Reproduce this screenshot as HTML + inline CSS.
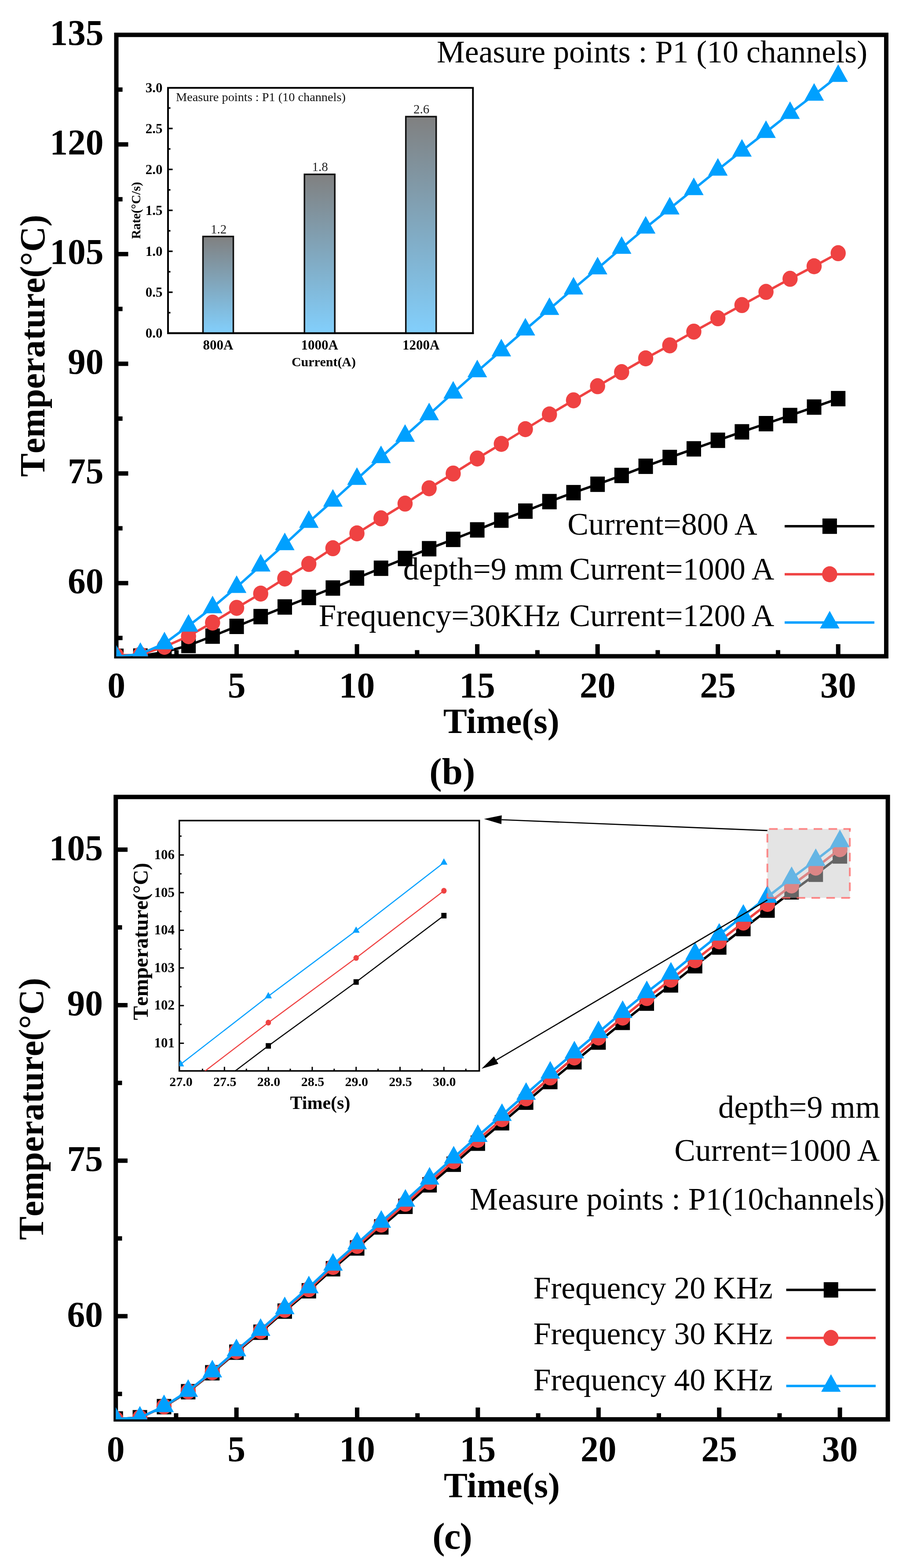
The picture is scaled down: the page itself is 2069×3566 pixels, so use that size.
<!DOCTYPE html>
<html><head><meta charset="utf-8"><title>Temperature charts</title>
<style>html,body{margin:0;padding:0;background:#fff;overflow:hidden;}svg{display:block;}.nk{font-kerning:none;}</style>
</head><body>
<svg width="2069" height="3566" viewBox="0 0 2069 3566" font-family="'Liberation Serif','Times New Roman',serif">
<rect width="2069" height="3566" fill="#fff"/>
<defs>
<clipPath id="cb"><rect x="264.5" y="79.3" width="1750.5" height="1413.2"/></clipPath>
<linearGradient id="bar" x1="0" y1="0" x2="0" y2="1"><stop offset="0" stop-color="#808080"/><stop offset="1" stop-color="#82CFFC"/></linearGradient>
</defs>
<rect x="264.5" y="79.3" width="1750.5" height="1413.2" fill="none" stroke="#000" stroke-width="10"/>
<line x1="264.5" y1="328.44" x2="291.5" y2="328.44" stroke="#000" stroke-width="10"/>
<line x1="264.5" y1="577.87" x2="291.5" y2="577.87" stroke="#000" stroke-width="10"/>
<line x1="264.5" y1="827.31" x2="291.5" y2="827.31" stroke="#000" stroke-width="10"/>
<line x1="264.5" y1="1076.74" x2="291.5" y2="1076.74" stroke="#000" stroke-width="10"/>
<line x1="264.5" y1="1326.18" x2="291.5" y2="1326.18" stroke="#000" stroke-width="10"/>
<line x1="264.5" y1="203.72" x2="278.6" y2="203.72" stroke="#000" stroke-width="10"/>
<line x1="264.5" y1="453.15" x2="278.6" y2="453.15" stroke="#000" stroke-width="10"/>
<line x1="264.5" y1="702.59" x2="278.6" y2="702.59" stroke="#000" stroke-width="10"/>
<line x1="264.5" y1="952.02" x2="278.6" y2="952.02" stroke="#000" stroke-width="10"/>
<line x1="264.5" y1="1201.46" x2="278.6" y2="1201.46" stroke="#000" stroke-width="10"/>
<line x1="264.5" y1="1450.89" x2="278.6" y2="1450.89" stroke="#000" stroke-width="10"/>
<line x1="538.04" y1="1492.5" x2="538.04" y2="1465" stroke="#000" stroke-width="10"/>
<line x1="811.57" y1="1492.5" x2="811.57" y2="1465" stroke="#000" stroke-width="10"/>
<line x1="1085.11" y1="1492.5" x2="1085.11" y2="1465" stroke="#000" stroke-width="10"/>
<line x1="1358.64" y1="1492.5" x2="1358.64" y2="1465" stroke="#000" stroke-width="10"/>
<line x1="1632.17" y1="1492.5" x2="1632.17" y2="1465" stroke="#000" stroke-width="10"/>
<line x1="1905.71" y1="1492.5" x2="1905.71" y2="1465" stroke="#000" stroke-width="10"/>
<line x1="401.27" y1="1492.5" x2="401.27" y2="1478.5" stroke="#000" stroke-width="10"/>
<line x1="674.8" y1="1492.5" x2="674.8" y2="1478.5" stroke="#000" stroke-width="10"/>
<line x1="948.34" y1="1492.5" x2="948.34" y2="1478.5" stroke="#000" stroke-width="10"/>
<line x1="1221.87" y1="1492.5" x2="1221.87" y2="1478.5" stroke="#000" stroke-width="10"/>
<line x1="1495.41" y1="1492.5" x2="1495.41" y2="1478.5" stroke="#000" stroke-width="10"/>
<line x1="1768.94" y1="1492.5" x2="1768.94" y2="1478.5" stroke="#000" stroke-width="10"/>
<text x="235.5" y="101.5" font-size="81.5" font-weight="bold" text-anchor="end" fill="#000">135</text>
<text x="235.5" y="350.94" font-size="81.5" font-weight="bold" text-anchor="end" fill="#000">120</text>
<text x="235.5" y="600.37" font-size="81.5" font-weight="bold" text-anchor="end" fill="#000">105</text>
<text x="235.5" y="849.81" font-size="81.5" font-weight="bold" text-anchor="end" fill="#000">90</text>
<text x="235.5" y="1099.24" font-size="81.5" font-weight="bold" text-anchor="end" fill="#000">75</text>
<text x="235.5" y="1348.68" font-size="81.5" font-weight="bold" text-anchor="end" fill="#000">60</text>
<text x="264.5" y="1585.5" font-size="81.5" font-weight="bold" text-anchor="middle" fill="#000">0</text>
<text x="538.04" y="1585.5" font-size="81.5" font-weight="bold" text-anchor="middle" fill="#000">5</text>
<text x="811.57" y="1585.5" font-size="81.5" font-weight="bold" text-anchor="middle" fill="#000">10</text>
<text x="1085.11" y="1585.5" font-size="81.5" font-weight="bold" text-anchor="middle" fill="#000">15</text>
<text x="1358.64" y="1585.5" font-size="81.5" font-weight="bold" text-anchor="middle" fill="#000">20</text>
<text x="1632.17" y="1585.5" font-size="81.5" font-weight="bold" text-anchor="middle" fill="#000">25</text>
<text x="1905.71" y="1585.5" font-size="81.5" font-weight="bold" text-anchor="middle" fill="#000">30</text>
<text x="1139.7" y="1666.5" font-size="81" font-weight="bold" text-anchor="middle" fill="#000">Time(s)</text>
<text x="100.8" y="786.5" font-size="80" font-weight="bold" text-anchor="middle" fill="#000" transform="rotate(-90 100.8 786.5)" class="nk">Temperature(°C)</text>
<text x="1028.3" y="1782.5" font-size="85" font-weight="bold" text-anchor="middle" fill="#000">(b)</text>
<text x="993" y="141.5" font-size="71.8" text-anchor="start" fill="#000">Measure points : P1 (10 channels)</text>
<rect x="382" y="199.8" width="693.3" height="557.9" fill="#fff" stroke="#000" stroke-width="4"/>
<line x1="382" y1="664.6" x2="392.5" y2="664.6" stroke="#000" stroke-width="3.5"/>
<line x1="382" y1="571.5" x2="392.5" y2="571.5" stroke="#000" stroke-width="3.5"/>
<line x1="382" y1="478.4" x2="392.5" y2="478.4" stroke="#000" stroke-width="3.5"/>
<line x1="382" y1="385.3" x2="392.5" y2="385.3" stroke="#000" stroke-width="3.5"/>
<line x1="382" y1="292.2" x2="392.5" y2="292.2" stroke="#000" stroke-width="3.5"/>
<line x1="382" y1="711.15" x2="387.5" y2="711.15" stroke="#000" stroke-width="3.5"/>
<line x1="382" y1="618.05" x2="387.5" y2="618.05" stroke="#000" stroke-width="3.5"/>
<line x1="382" y1="524.95" x2="387.5" y2="524.95" stroke="#000" stroke-width="3.5"/>
<line x1="382" y1="431.85" x2="387.5" y2="431.85" stroke="#000" stroke-width="3.5"/>
<line x1="382" y1="338.75" x2="387.5" y2="338.75" stroke="#000" stroke-width="3.5"/>
<line x1="382" y1="245.65" x2="387.5" y2="245.65" stroke="#000" stroke-width="3.5"/>
<text x="369.5" y="768.2" font-size="31" font-weight="bold" text-anchor="end" fill="#000">0.0</text>
<text x="369.5" y="675.1" font-size="31" font-weight="bold" text-anchor="end" fill="#000">0.5</text>
<text x="369.5" y="582" font-size="31" font-weight="bold" text-anchor="end" fill="#000">1.0</text>
<text x="369.5" y="488.9" font-size="31" font-weight="bold" text-anchor="end" fill="#000">1.5</text>
<text x="369.5" y="395.8" font-size="31" font-weight="bold" text-anchor="end" fill="#000">2.0</text>
<text x="369.5" y="302.7" font-size="31" font-weight="bold" text-anchor="end" fill="#000">2.5</text>
<text x="369.5" y="209.6" font-size="31" font-weight="bold" text-anchor="end" fill="#000">3.0</text>
<rect x="461.5" y="537.8" width="69" height="219.9" fill="url(#bar)" stroke="#111" stroke-width="3.5"/>
<text x="497" y="530.8" font-size="29" text-anchor="middle" fill="#222">1.2</text>
<text x="496" y="795" font-size="31" font-weight="bold" text-anchor="middle" fill="#000">800A</text>
<rect x="692.2" y="396.47" width="69" height="361.23" fill="url(#bar)" stroke="#111" stroke-width="3.5"/>
<text x="727.7" y="389.47" font-size="29" text-anchor="middle" fill="#222">1.8</text>
<text x="726.7" y="795" font-size="31" font-weight="bold" text-anchor="middle" fill="#000">1000A</text>
<rect x="922.7" y="265.2" width="69" height="492.5" fill="url(#bar)" stroke="#111" stroke-width="3.5"/>
<text x="958.2" y="258.2" font-size="29" text-anchor="middle" fill="#222">2.6</text>
<text x="957.2" y="795" font-size="31" font-weight="bold" text-anchor="middle" fill="#000">1200A</text>
<line x1="380" y1="757.7" x2="1077.3" y2="757.7" stroke="#000" stroke-width="4"/>
<text x="736" y="832.5" font-size="30" font-weight="bold" text-anchor="middle" fill="#000">Current(A)</text>
<text x="319" y="478.6" font-size="30" font-weight="bold" text-anchor="middle" fill="#000" transform="rotate(-90 319 478.6)" textLength="129.7" lengthAdjust="spacingAndGlyphs">Rate(°C/s)</text>
<text x="400" y="230.3" font-size="28.3" text-anchor="start" fill="#111">Measure points : P1 (10 channels)</text>
<g clip-path="url(#cb)">
<polyline points="264.5,1492.5 319.21,1492 373.91,1483 428.62,1468 483.33,1446.7 538.04,1424.5 592.74,1402.3 647.45,1380.4 702.16,1358.8 756.86,1337.3 811.57,1314.6 866.28,1292.3 920.98,1270.1 975.69,1247.9 1030.4,1226.7 1085.11,1205.1 1139.81,1182.9 1194.52,1162.4 1249.23,1140.8 1303.93,1120.4 1358.64,1101.3 1413.35,1081.3 1468.05,1060.4 1522.76,1040.4 1577.47,1020.8 1632.17,1001.3 1686.88,982.1 1741.59,963.5 1796.3,945 1851,925.8 1905.71,906.6" fill="none" stroke="#000000" stroke-width="5.5" stroke-linejoin="round"/>
<rect x="248" y="1475" width="33" height="35" fill="#000000"/>
<rect x="302.71" y="1474.5" width="33" height="35" fill="#000000"/>
<rect x="357.41" y="1465.5" width="33" height="35" fill="#000000"/>
<rect x="412.12" y="1450.5" width="33" height="35" fill="#000000"/>
<rect x="466.83" y="1429.2" width="33" height="35" fill="#000000"/>
<rect x="521.54" y="1407" width="33" height="35" fill="#000000"/>
<rect x="576.24" y="1384.8" width="33" height="35" fill="#000000"/>
<rect x="630.95" y="1362.9" width="33" height="35" fill="#000000"/>
<rect x="685.66" y="1341.3" width="33" height="35" fill="#000000"/>
<rect x="740.36" y="1319.8" width="33" height="35" fill="#000000"/>
<rect x="795.07" y="1297.1" width="33" height="35" fill="#000000"/>
<rect x="849.78" y="1274.8" width="33" height="35" fill="#000000"/>
<rect x="904.48" y="1252.6" width="33" height="35" fill="#000000"/>
<rect x="959.19" y="1230.4" width="33" height="35" fill="#000000"/>
<rect x="1013.9" y="1209.2" width="33" height="35" fill="#000000"/>
<rect x="1068.61" y="1187.6" width="33" height="35" fill="#000000"/>
<rect x="1123.31" y="1165.4" width="33" height="35" fill="#000000"/>
<rect x="1178.02" y="1144.9" width="33" height="35" fill="#000000"/>
<rect x="1232.73" y="1123.3" width="33" height="35" fill="#000000"/>
<rect x="1287.43" y="1102.9" width="33" height="35" fill="#000000"/>
<rect x="1342.14" y="1083.8" width="33" height="35" fill="#000000"/>
<rect x="1396.85" y="1063.8" width="33" height="35" fill="#000000"/>
<rect x="1451.55" y="1042.9" width="33" height="35" fill="#000000"/>
<rect x="1506.26" y="1022.9" width="33" height="35" fill="#000000"/>
<rect x="1560.97" y="1003.3" width="33" height="35" fill="#000000"/>
<rect x="1615.67" y="983.8" width="33" height="35" fill="#000000"/>
<rect x="1670.38" y="964.6" width="33" height="35" fill="#000000"/>
<rect x="1725.09" y="946" width="33" height="35" fill="#000000"/>
<rect x="1779.8" y="927.5" width="33" height="35" fill="#000000"/>
<rect x="1834.5" y="908.3" width="33" height="35" fill="#000000"/>
<rect x="1889.21" y="889.1" width="33" height="35" fill="#000000"/>
<polyline points="264.5,1491 319.21,1489 373.91,1471 428.62,1446.7 483.33,1415.9 538.04,1382.4 592.74,1350 647.45,1315.7 702.16,1282.6 756.86,1246.8 811.57,1213 866.28,1178.8 920.98,1145.3 975.69,1110.4 1030.4,1076.9 1085.11,1042.7 1139.81,1009.5 1194.52,976 1249.23,942.5 1303.93,910.4 1358.64,878.3 1413.35,846.3 1468.05,815 1522.76,785.4 1577.47,754.2 1632.17,723.8 1686.88,693.8 1741.59,663.8 1796.3,634.1 1851,605.5 1905.71,575.8" fill="none" stroke="#EF4242" stroke-width="5.5" stroke-linejoin="round"/>
<ellipse cx="264.5" cy="1491" rx="17.25" ry="18.25" fill="#EF4242"/>
<ellipse cx="319.21" cy="1489" rx="17.25" ry="18.25" fill="#EF4242"/>
<ellipse cx="373.91" cy="1471" rx="17.25" ry="18.25" fill="#EF4242"/>
<ellipse cx="428.62" cy="1446.7" rx="17.25" ry="18.25" fill="#EF4242"/>
<ellipse cx="483.33" cy="1415.9" rx="17.25" ry="18.25" fill="#EF4242"/>
<ellipse cx="538.04" cy="1382.4" rx="17.25" ry="18.25" fill="#EF4242"/>
<ellipse cx="592.74" cy="1350" rx="17.25" ry="18.25" fill="#EF4242"/>
<ellipse cx="647.45" cy="1315.7" rx="17.25" ry="18.25" fill="#EF4242"/>
<ellipse cx="702.16" cy="1282.6" rx="17.25" ry="18.25" fill="#EF4242"/>
<ellipse cx="756.86" cy="1246.8" rx="17.25" ry="18.25" fill="#EF4242"/>
<ellipse cx="811.57" cy="1213" rx="17.25" ry="18.25" fill="#EF4242"/>
<ellipse cx="866.28" cy="1178.8" rx="17.25" ry="18.25" fill="#EF4242"/>
<ellipse cx="920.98" cy="1145.3" rx="17.25" ry="18.25" fill="#EF4242"/>
<ellipse cx="975.69" cy="1110.4" rx="17.25" ry="18.25" fill="#EF4242"/>
<ellipse cx="1030.4" cy="1076.9" rx="17.25" ry="18.25" fill="#EF4242"/>
<ellipse cx="1085.11" cy="1042.7" rx="17.25" ry="18.25" fill="#EF4242"/>
<ellipse cx="1139.81" cy="1009.5" rx="17.25" ry="18.25" fill="#EF4242"/>
<ellipse cx="1194.52" cy="976" rx="17.25" ry="18.25" fill="#EF4242"/>
<ellipse cx="1249.23" cy="942.5" rx="17.25" ry="18.25" fill="#EF4242"/>
<ellipse cx="1303.93" cy="910.4" rx="17.25" ry="18.25" fill="#EF4242"/>
<ellipse cx="1358.64" cy="878.3" rx="17.25" ry="18.25" fill="#EF4242"/>
<ellipse cx="1413.35" cy="846.3" rx="17.25" ry="18.25" fill="#EF4242"/>
<ellipse cx="1468.05" cy="815" rx="17.25" ry="18.25" fill="#EF4242"/>
<ellipse cx="1522.76" cy="785.4" rx="17.25" ry="18.25" fill="#EF4242"/>
<ellipse cx="1577.47" cy="754.2" rx="17.25" ry="18.25" fill="#EF4242"/>
<ellipse cx="1632.17" cy="723.8" rx="17.25" ry="18.25" fill="#EF4242"/>
<ellipse cx="1686.88" cy="693.8" rx="17.25" ry="18.25" fill="#EF4242"/>
<ellipse cx="1741.59" cy="663.8" rx="17.25" ry="18.25" fill="#EF4242"/>
<ellipse cx="1796.3" cy="634.1" rx="17.25" ry="18.25" fill="#EF4242"/>
<ellipse cx="1851" cy="605.5" rx="17.25" ry="18.25" fill="#EF4242"/>
<ellipse cx="1905.71" cy="575.8" rx="17.25" ry="18.25" fill="#EF4242"/>
<polyline points="264.5,1493.8 319.21,1487.3 373.91,1463.5 428.62,1423.2 483.33,1381.4 538.04,1335.2 592.74,1286.3 647.45,1237.8 702.16,1187.1 756.86,1139 811.57,1089.5 866.28,1039.9 920.98,991.4 975.69,942.5 1030.4,893.2 1085.11,844.7 1139.81,797.1 1194.52,749.6 1249.23,702.8 1303.93,656.5 1358.64,610.7 1413.35,564 1468.05,517.8 1522.76,474.4 1577.47,430.3 1632.17,386.1 1686.88,342.8 1741.59,300.5 1796.3,257.1 1851,215.6 1905.71,173" fill="none" stroke="#00A0FF" stroke-width="5.5" stroke-linejoin="round"/>
<polygon points="264.5,1467.13 242.25,1507.13 286.75,1507.13" fill="#00A0FF"/>
<polygon points="319.21,1460.63 296.96,1500.63 341.46,1500.63" fill="#00A0FF"/>
<polygon points="373.91,1436.83 351.66,1476.83 396.16,1476.83" fill="#00A0FF"/>
<polygon points="428.62,1396.53 406.37,1436.53 450.87,1436.53" fill="#00A0FF"/>
<polygon points="483.33,1354.73 461.08,1394.73 505.58,1394.73" fill="#00A0FF"/>
<polygon points="538.04,1308.53 515.79,1348.53 560.29,1348.53" fill="#00A0FF"/>
<polygon points="592.74,1259.63 570.49,1299.63 614.99,1299.63" fill="#00A0FF"/>
<polygon points="647.45,1211.13 625.2,1251.13 669.7,1251.13" fill="#00A0FF"/>
<polygon points="702.16,1160.43 679.91,1200.43 724.41,1200.43" fill="#00A0FF"/>
<polygon points="756.86,1112.33 734.61,1152.33 779.11,1152.33" fill="#00A0FF"/>
<polygon points="811.57,1062.83 789.32,1102.83 833.82,1102.83" fill="#00A0FF"/>
<polygon points="866.28,1013.23 844.03,1053.23 888.53,1053.23" fill="#00A0FF"/>
<polygon points="920.98,964.73 898.73,1004.73 943.23,1004.73" fill="#00A0FF"/>
<polygon points="975.69,915.83 953.44,955.83 997.94,955.83" fill="#00A0FF"/>
<polygon points="1030.4,866.53 1008.15,906.53 1052.65,906.53" fill="#00A0FF"/>
<polygon points="1085.11,818.03 1062.86,858.03 1107.36,858.03" fill="#00A0FF"/>
<polygon points="1139.81,770.43 1117.56,810.43 1162.06,810.43" fill="#00A0FF"/>
<polygon points="1194.52,722.93 1172.27,762.93 1216.77,762.93" fill="#00A0FF"/>
<polygon points="1249.23,676.13 1226.98,716.13 1271.48,716.13" fill="#00A0FF"/>
<polygon points="1303.93,629.83 1281.68,669.83 1326.18,669.83" fill="#00A0FF"/>
<polygon points="1358.64,584.03 1336.39,624.03 1380.89,624.03" fill="#00A0FF"/>
<polygon points="1413.35,537.33 1391.1,577.33 1435.6,577.33" fill="#00A0FF"/>
<polygon points="1468.05,491.13 1445.8,531.13 1490.3,531.13" fill="#00A0FF"/>
<polygon points="1522.76,447.73 1500.51,487.73 1545.01,487.73" fill="#00A0FF"/>
<polygon points="1577.47,403.63 1555.22,443.63 1599.72,443.63" fill="#00A0FF"/>
<polygon points="1632.17,359.43 1609.92,399.43 1654.42,399.43" fill="#00A0FF"/>
<polygon points="1686.88,316.13 1664.63,356.13 1709.13,356.13" fill="#00A0FF"/>
<polygon points="1741.59,273.83 1719.34,313.83 1763.84,313.83" fill="#00A0FF"/>
<polygon points="1796.3,230.43 1774.05,270.43 1818.55,270.43" fill="#00A0FF"/>
<polygon points="1851,188.93 1828.75,228.93 1873.25,228.93" fill="#00A0FF"/>
<polygon points="1905.71,146.33 1883.46,186.33 1927.96,186.33" fill="#00A0FF"/>
</g>
<text x="1290.2" y="1215.7" font-size="71.5" text-anchor="start" fill="#000">Current=800 A</text>
<text x="916.7" y="1317.6" font-size="71.5" text-anchor="start" fill="#000">depth=9 mm</text>
<text x="1294.4" y="1317.6" font-size="71.3" text-anchor="start" fill="#000">Current=1000 A</text>
<text x="724.5" y="1423.6" font-size="71.5" text-anchor="start" fill="#000">Frequency=30KHz</text>
<text x="1294.4" y="1423.6" font-size="71.3" text-anchor="start" fill="#000">Current=1200 A</text>
<line x1="1784" y1="1196.7" x2="1988" y2="1196.7" stroke="#000000" stroke-width="5.5"/>
<rect x="1869.9" y="1179.2" width="33" height="35" fill="#000000"/>
<line x1="1784" y1="1306" x2="1988" y2="1306" stroke="#EF4242" stroke-width="5.5"/>
<ellipse cx="1886.4" cy="1306" rx="17.25" ry="18.25" fill="#EF4242"/>
<line x1="1784" y1="1415.8" x2="1988" y2="1415.8" stroke="#00A0FF" stroke-width="5.5"/>
<polygon points="1886.4,1389.13 1864.15,1429.13 1908.65,1429.13" fill="#00A0FF"/>
<defs><clipPath id="cc"><rect x="263.2" y="1812.5" width="1755.4" height="1415.5"/></clipPath></defs>
<rect x="263.2" y="1812.5" width="1755.4" height="1415.5" fill="none" stroke="#000" stroke-width="10"/>
<line x1="263.2" y1="1932.3" x2="290" y2="1932.3" stroke="#000" stroke-width="10"/>
<line x1="263.2" y1="2285.97" x2="290" y2="2285.97" stroke="#000" stroke-width="10"/>
<line x1="263.2" y1="2639.64" x2="290" y2="2639.64" stroke="#000" stroke-width="10"/>
<line x1="263.2" y1="2993.31" x2="290" y2="2993.31" stroke="#000" stroke-width="10"/>
<line x1="263.2" y1="2109.13" x2="277.5" y2="2109.13" stroke="#000" stroke-width="10"/>
<line x1="263.2" y1="2462.8" x2="277.5" y2="2462.8" stroke="#000" stroke-width="10"/>
<line x1="263.2" y1="2816.47" x2="277.5" y2="2816.47" stroke="#000" stroke-width="10"/>
<line x1="263.2" y1="3170.14" x2="277.5" y2="3170.14" stroke="#000" stroke-width="10"/>
<line x1="537.6" y1="3228" x2="537.6" y2="3201" stroke="#000" stroke-width="10"/>
<line x1="812" y1="3228" x2="812" y2="3201" stroke="#000" stroke-width="10"/>
<line x1="1086.4" y1="3228" x2="1086.4" y2="3201" stroke="#000" stroke-width="10"/>
<line x1="1360.8" y1="3228" x2="1360.8" y2="3201" stroke="#000" stroke-width="10"/>
<line x1="1635.2" y1="3228" x2="1635.2" y2="3201" stroke="#000" stroke-width="10"/>
<line x1="1909.6" y1="3228" x2="1909.6" y2="3201" stroke="#000" stroke-width="10"/>
<line x1="400.4" y1="3228" x2="400.4" y2="3214" stroke="#000" stroke-width="10"/>
<line x1="674.8" y1="3228" x2="674.8" y2="3214" stroke="#000" stroke-width="10"/>
<line x1="949.2" y1="3228" x2="949.2" y2="3214" stroke="#000" stroke-width="10"/>
<line x1="1223.6" y1="3228" x2="1223.6" y2="3214" stroke="#000" stroke-width="10"/>
<line x1="1498" y1="3228" x2="1498" y2="3214" stroke="#000" stroke-width="10"/>
<line x1="1772.4" y1="3228" x2="1772.4" y2="3214" stroke="#000" stroke-width="10"/>
<text x="234" y="1955.8" font-size="81.5" font-weight="bold" text-anchor="end" fill="#000">105</text>
<text x="234" y="2309.47" font-size="81.5" font-weight="bold" text-anchor="end" fill="#000">90</text>
<text x="234" y="2663.14" font-size="81.5" font-weight="bold" text-anchor="end" fill="#000">75</text>
<text x="234" y="3016.81" font-size="81.5" font-weight="bold" text-anchor="end" fill="#000">60</text>
<text x="263.2" y="3322.5" font-size="81.5" font-weight="bold" text-anchor="middle" fill="#000">0</text>
<text x="537.6" y="3322.5" font-size="81.5" font-weight="bold" text-anchor="middle" fill="#000">5</text>
<text x="812" y="3322.5" font-size="81.5" font-weight="bold" text-anchor="middle" fill="#000">10</text>
<text x="1086.4" y="3322.5" font-size="81.5" font-weight="bold" text-anchor="middle" fill="#000">15</text>
<text x="1360.8" y="3322.5" font-size="81.5" font-weight="bold" text-anchor="middle" fill="#000">20</text>
<text x="1635.2" y="3322.5" font-size="81.5" font-weight="bold" text-anchor="middle" fill="#000">25</text>
<text x="1909.6" y="3322.5" font-size="81.5" font-weight="bold" text-anchor="middle" fill="#000">30</text>
<text x="1141" y="3404.5" font-size="81" font-weight="bold" text-anchor="middle" fill="#000">Time(s)</text>
<text x="98.2" y="2521.8" font-size="80" font-weight="bold" text-anchor="middle" fill="#000" transform="rotate(-90 98.2 2521.8)" class="nk">Temperature(°C)</text>
<text x="1028.5" y="3521.5" font-size="85" font-weight="bold" text-anchor="middle" fill="#000" textLength="90.5" lengthAdjust="spacing">(c)</text>
<g clip-path="url(#cc)">
<polyline points="263.2,3227.04 318.08,3224.24 372.96,3199.06 427.84,3165.07 482.72,3121.98 537.6,3075.11 592.48,3029.79 647.36,2981.8 702.24,2935.5 757.12,2885.41 812,2838.13 866.88,2790.28 921.76,2743.42 976.64,2694.59 1031.52,2647.73 1086.4,2599.88 1141.28,2553.44 1196.16,2506.57 1251.04,2459.71 1305.92,2414.8 1360.8,2369.89 1415.68,2325.13 1470.56,2281.34 1525.44,2239.93 1580.32,2196.28 1635.2,2153.75 1690.08,2111.79 1744.96,2069.82 1799.84,2028.27 1854.72,1988.26 1909.6,1946.71" fill="none" stroke="#000000" stroke-width="5.5" stroke-linejoin="round"/>
<rect x="246.7" y="3209.54" width="33" height="35" fill="#000000"/>
<rect x="301.58" y="3206.74" width="33" height="35" fill="#000000"/>
<rect x="356.46" y="3181.56" width="33" height="35" fill="#000000"/>
<rect x="411.34" y="3147.57" width="33" height="35" fill="#000000"/>
<rect x="466.22" y="3104.48" width="33" height="35" fill="#000000"/>
<rect x="521.1" y="3057.61" width="33" height="35" fill="#000000"/>
<rect x="575.98" y="3012.29" width="33" height="35" fill="#000000"/>
<rect x="630.86" y="2964.3" width="33" height="35" fill="#000000"/>
<rect x="685.74" y="2918" width="33" height="35" fill="#000000"/>
<rect x="740.62" y="2867.91" width="33" height="35" fill="#000000"/>
<rect x="795.5" y="2820.63" width="33" height="35" fill="#000000"/>
<rect x="850.38" y="2772.78" width="33" height="35" fill="#000000"/>
<rect x="905.26" y="2725.92" width="33" height="35" fill="#000000"/>
<rect x="960.14" y="2677.09" width="33" height="35" fill="#000000"/>
<rect x="1015.02" y="2630.23" width="33" height="35" fill="#000000"/>
<rect x="1069.9" y="2582.38" width="33" height="35" fill="#000000"/>
<rect x="1124.78" y="2535.94" width="33" height="35" fill="#000000"/>
<rect x="1179.66" y="2489.07" width="33" height="35" fill="#000000"/>
<rect x="1234.54" y="2442.21" width="33" height="35" fill="#000000"/>
<rect x="1289.42" y="2397.3" width="33" height="35" fill="#000000"/>
<rect x="1344.3" y="2352.39" width="33" height="35" fill="#000000"/>
<rect x="1399.18" y="2307.63" width="33" height="35" fill="#000000"/>
<rect x="1454.06" y="2263.84" width="33" height="35" fill="#000000"/>
<rect x="1508.94" y="2222.43" width="33" height="35" fill="#000000"/>
<rect x="1563.82" y="2178.78" width="33" height="35" fill="#000000"/>
<rect x="1618.7" y="2136.25" width="33" height="35" fill="#000000"/>
<rect x="1673.58" y="2094.29" width="33" height="35" fill="#000000"/>
<rect x="1728.46" y="2052.32" width="33" height="35" fill="#000000"/>
<rect x="1783.34" y="2010.77" width="33" height="35" fill="#000000"/>
<rect x="1838.22" y="1970.76" width="33" height="35" fill="#000000"/>
<rect x="1893.1" y="1929.21" width="33" height="35" fill="#000000"/>
<polyline points="263.2,3227.02 318.08,3224.18 372.96,3198.7 427.84,3164.29 482.72,3120.68 537.6,3073.24 592.48,3027.37 647.36,2978.8 702.24,2931.93 757.12,2881.24 812,2833.38 866.88,2784.95 921.76,2737.52 976.64,2688.1 1031.52,2640.67 1086.4,2592.24 1141.28,2545.23 1196.16,2497.8 1251.04,2450.36 1305.92,2404.91 1360.8,2359.46 1415.68,2314.15 1470.56,2269.83 1525.44,2227.92 1580.32,2183.74 1635.2,2140.69 1690.08,2098.22 1744.96,2055.74 1799.84,2013.68 1854.72,1973.19 1909.6,1931.13" fill="none" stroke="#EF4242" stroke-width="5.5" stroke-linejoin="round"/>
<ellipse cx="263.2" cy="3227.02" rx="17.25" ry="18.25" fill="#EF4242"/>
<ellipse cx="318.08" cy="3224.18" rx="17.25" ry="18.25" fill="#EF4242"/>
<ellipse cx="372.96" cy="3198.7" rx="17.25" ry="18.25" fill="#EF4242"/>
<ellipse cx="427.84" cy="3164.29" rx="17.25" ry="18.25" fill="#EF4242"/>
<ellipse cx="482.72" cy="3120.68" rx="17.25" ry="18.25" fill="#EF4242"/>
<ellipse cx="537.6" cy="3073.24" rx="17.25" ry="18.25" fill="#EF4242"/>
<ellipse cx="592.48" cy="3027.37" rx="17.25" ry="18.25" fill="#EF4242"/>
<ellipse cx="647.36" cy="2978.8" rx="17.25" ry="18.25" fill="#EF4242"/>
<ellipse cx="702.24" cy="2931.93" rx="17.25" ry="18.25" fill="#EF4242"/>
<ellipse cx="757.12" cy="2881.24" rx="17.25" ry="18.25" fill="#EF4242"/>
<ellipse cx="812" cy="2833.38" rx="17.25" ry="18.25" fill="#EF4242"/>
<ellipse cx="866.88" cy="2784.95" rx="17.25" ry="18.25" fill="#EF4242"/>
<ellipse cx="921.76" cy="2737.52" rx="17.25" ry="18.25" fill="#EF4242"/>
<ellipse cx="976.64" cy="2688.1" rx="17.25" ry="18.25" fill="#EF4242"/>
<ellipse cx="1031.52" cy="2640.67" rx="17.25" ry="18.25" fill="#EF4242"/>
<ellipse cx="1086.4" cy="2592.24" rx="17.25" ry="18.25" fill="#EF4242"/>
<ellipse cx="1141.28" cy="2545.23" rx="17.25" ry="18.25" fill="#EF4242"/>
<ellipse cx="1196.16" cy="2497.8" rx="17.25" ry="18.25" fill="#EF4242"/>
<ellipse cx="1251.04" cy="2450.36" rx="17.25" ry="18.25" fill="#EF4242"/>
<ellipse cx="1305.92" cy="2404.91" rx="17.25" ry="18.25" fill="#EF4242"/>
<ellipse cx="1360.8" cy="2359.46" rx="17.25" ry="18.25" fill="#EF4242"/>
<ellipse cx="1415.68" cy="2314.15" rx="17.25" ry="18.25" fill="#EF4242"/>
<ellipse cx="1470.56" cy="2269.83" rx="17.25" ry="18.25" fill="#EF4242"/>
<ellipse cx="1525.44" cy="2227.92" rx="17.25" ry="18.25" fill="#EF4242"/>
<ellipse cx="1580.32" cy="2183.74" rx="17.25" ry="18.25" fill="#EF4242"/>
<ellipse cx="1635.2" cy="2140.69" rx="17.25" ry="18.25" fill="#EF4242"/>
<ellipse cx="1690.08" cy="2098.22" rx="17.25" ry="18.25" fill="#EF4242"/>
<ellipse cx="1744.96" cy="2055.74" rx="17.25" ry="18.25" fill="#EF4242"/>
<ellipse cx="1799.84" cy="2013.68" rx="17.25" ry="18.25" fill="#EF4242"/>
<ellipse cx="1854.72" cy="1973.19" rx="17.25" ry="18.25" fill="#EF4242"/>
<ellipse cx="1909.6" cy="1931.13" rx="17.25" ry="18.25" fill="#EF4242"/>
<polyline points="263.2,3226.99 318.08,3224.12 372.96,3198.28 427.84,3163.41 482.72,3119.2 537.6,3071.12 592.48,3024.62 647.36,2975.39 702.24,2927.89 757.12,2876.51 812,2828 866.88,2778.91 921.76,2730.83 976.64,2680.75 1031.52,2632.67 1086.4,2583.58 1141.28,2535.93 1196.16,2487.85 1251.04,2439.77 1305.92,2393.7 1360.8,2347.63 1415.68,2301.71 1470.56,2256.78 1525.44,2214.3 1580.32,2169.52 1635.2,2125.89 1690.08,2082.84 1744.96,2039.78 1799.84,1997.15 1854.72,1956.11 1909.6,1913.48" fill="none" stroke="#00A0FF" stroke-width="5.5" stroke-linejoin="round"/>
<polygon points="263.2,3200.32 240.95,3240.32 285.45,3240.32" fill="#00A0FF"/>
<polygon points="318.08,3197.45 295.83,3237.45 340.33,3237.45" fill="#00A0FF"/>
<polygon points="372.96,3171.62 350.71,3211.62 395.21,3211.62" fill="#00A0FF"/>
<polygon points="427.84,3136.74 405.59,3176.74 450.09,3176.74" fill="#00A0FF"/>
<polygon points="482.72,3092.54 460.47,3132.54 504.97,3132.54" fill="#00A0FF"/>
<polygon points="537.6,3044.46 515.35,3084.46 559.85,3084.46" fill="#00A0FF"/>
<polygon points="592.48,2997.96 570.23,3037.96 614.73,3037.96" fill="#00A0FF"/>
<polygon points="647.36,2948.73 625.11,2988.73 669.61,2988.73" fill="#00A0FF"/>
<polygon points="702.24,2901.22 679.99,2941.22 724.49,2941.22" fill="#00A0FF"/>
<polygon points="757.12,2849.84 734.87,2889.84 779.37,2889.84" fill="#00A0FF"/>
<polygon points="812,2801.33 789.75,2841.33 834.25,2841.33" fill="#00A0FF"/>
<polygon points="866.88,2752.25 844.63,2792.25 889.13,2792.25" fill="#00A0FF"/>
<polygon points="921.76,2704.17 899.51,2744.17 944.01,2744.17" fill="#00A0FF"/>
<polygon points="976.64,2654.08 954.39,2694.08 998.89,2694.08" fill="#00A0FF"/>
<polygon points="1031.52,2606 1009.27,2646 1053.77,2646" fill="#00A0FF"/>
<polygon points="1086.4,2556.91 1064.15,2596.91 1108.65,2596.91" fill="#00A0FF"/>
<polygon points="1141.28,2509.27 1119.03,2549.27 1163.53,2549.27" fill="#00A0FF"/>
<polygon points="1196.16,2461.19 1173.91,2501.19 1218.41,2501.19" fill="#00A0FF"/>
<polygon points="1251.04,2413.11 1228.79,2453.11 1273.29,2453.11" fill="#00A0FF"/>
<polygon points="1305.92,2367.04 1283.67,2407.04 1328.17,2407.04" fill="#00A0FF"/>
<polygon points="1360.8,2320.97 1338.55,2360.97 1383.05,2360.97" fill="#00A0FF"/>
<polygon points="1415.68,2275.04 1393.43,2315.04 1437.93,2315.04" fill="#00A0FF"/>
<polygon points="1470.56,2230.12 1448.31,2270.12 1492.81,2270.12" fill="#00A0FF"/>
<polygon points="1525.44,2187.63 1503.19,2227.63 1547.69,2227.63" fill="#00A0FF"/>
<polygon points="1580.32,2142.86 1558.07,2182.86 1602.57,2182.86" fill="#00A0FF"/>
<polygon points="1635.2,2099.23 1612.95,2139.23 1657.45,2139.23" fill="#00A0FF"/>
<polygon points="1690.08,2056.17 1667.83,2096.17 1712.33,2096.17" fill="#00A0FF"/>
<polygon points="1744.96,2013.11 1722.71,2053.11 1767.21,2053.11" fill="#00A0FF"/>
<polygon points="1799.84,1970.49 1777.59,2010.49 1822.09,2010.49" fill="#00A0FF"/>
<polygon points="1854.72,1929.44 1832.47,1969.44 1876.97,1969.44" fill="#00A0FF"/>
<polygon points="1909.6,1886.81 1887.35,1926.81 1931.85,1926.81" fill="#00A0FF"/>
</g>
<rect x="1744.7" y="1885.3" width="187.5" height="156.6" fill="rgb(202,202,202)" fill-opacity="0.5"/>
<line x1="1742.7" y1="1885.3" x2="1934.2" y2="1885.3" stroke="#FF6060" stroke-width="4" stroke-dasharray="19.5,14.3" stroke-opacity="0.72" stroke-dashoffset="-5.9"/>
<line x1="1744.7" y1="1885.3" x2="1744.7" y2="2041.9" stroke="#FF6060" stroke-width="4" stroke-dasharray="19.5,14.3" stroke-opacity="0.72" stroke-dashoffset="-11.3"/>
<line x1="1742.7" y1="2041.9" x2="1934.2" y2="2041.9" stroke="#FF6060" stroke-width="4" stroke-dasharray="19.5,14.3" stroke-opacity="0.72" stroke-dashoffset="-0.9"/>
<line x1="1932.2" y1="1885.3" x2="1932.2" y2="2041.9" stroke="#FF6060" stroke-width="4" stroke-dasharray="19.5,14.3" stroke-opacity="0.72" stroke-dashoffset="-54.2"/>
<defs><clipPath id="cj"><rect x="407.7" y="1866.2" width="682" height="569.3"/></clipPath></defs>
<rect x="407.7" y="1866.2" width="682" height="569.3" fill="#fff" stroke="#000" stroke-width="3.5"/>
<line x1="407.7" y1="2372.6" x2="418.2" y2="2372.6" stroke="#000" stroke-width="3"/>
<text x="397" y="2382.1" font-size="31" font-weight="bold" text-anchor="end" fill="#000">101</text>
<line x1="407.7" y1="2286.96" x2="418.2" y2="2286.96" stroke="#000" stroke-width="3"/>
<text x="397" y="2296.46" font-size="31" font-weight="bold" text-anchor="end" fill="#000">102</text>
<line x1="407.7" y1="2201.32" x2="418.2" y2="2201.32" stroke="#000" stroke-width="3"/>
<text x="397" y="2210.82" font-size="31" font-weight="bold" text-anchor="end" fill="#000">103</text>
<line x1="407.7" y1="2115.68" x2="418.2" y2="2115.68" stroke="#000" stroke-width="3"/>
<text x="397" y="2125.18" font-size="31" font-weight="bold" text-anchor="end" fill="#000">104</text>
<line x1="407.7" y1="2030.04" x2="418.2" y2="2030.04" stroke="#000" stroke-width="3"/>
<text x="397" y="2039.54" font-size="31" font-weight="bold" text-anchor="end" fill="#000">105</text>
<line x1="407.7" y1="1944.4" x2="418.2" y2="1944.4" stroke="#000" stroke-width="3"/>
<text x="397" y="1953.9" font-size="31" font-weight="bold" text-anchor="end" fill="#000">106</text>
<line x1="407.7" y1="2415.42" x2="412.8" y2="2415.42" stroke="#000" stroke-width="3"/>
<line x1="407.7" y1="2329.78" x2="412.8" y2="2329.78" stroke="#000" stroke-width="3"/>
<line x1="407.7" y1="2244.14" x2="412.8" y2="2244.14" stroke="#000" stroke-width="3"/>
<line x1="407.7" y1="2158.5" x2="412.8" y2="2158.5" stroke="#000" stroke-width="3"/>
<line x1="407.7" y1="2072.86" x2="412.8" y2="2072.86" stroke="#000" stroke-width="3"/>
<line x1="407.7" y1="1987.22" x2="412.8" y2="1987.22" stroke="#000" stroke-width="3"/>
<line x1="407.7" y1="1901.58" x2="412.8" y2="1901.58" stroke="#000" stroke-width="3"/>
<text x="411.5" y="2469.5" font-size="30" font-weight="bold" text-anchor="middle" fill="#000">27.0</text>
<line x1="510.3" y1="2435.5" x2="510.3" y2="2426.2" stroke="#000" stroke-width="3"/>
<text x="511.3" y="2469.5" font-size="30" font-weight="bold" text-anchor="middle" fill="#000">27.5</text>
<line x1="610.1" y1="2435.5" x2="610.1" y2="2426.2" stroke="#000" stroke-width="3"/>
<text x="611.1" y="2469.5" font-size="30" font-weight="bold" text-anchor="middle" fill="#000">28.0</text>
<line x1="709.9" y1="2435.5" x2="709.9" y2="2426.2" stroke="#000" stroke-width="3"/>
<text x="710.9" y="2469.5" font-size="30" font-weight="bold" text-anchor="middle" fill="#000">28.5</text>
<line x1="809.7" y1="2435.5" x2="809.7" y2="2426.2" stroke="#000" stroke-width="3"/>
<text x="810.7" y="2469.5" font-size="30" font-weight="bold" text-anchor="middle" fill="#000">29.0</text>
<line x1="909.5" y1="2435.5" x2="909.5" y2="2426.2" stroke="#000" stroke-width="3"/>
<text x="910.5" y="2469.5" font-size="30" font-weight="bold" text-anchor="middle" fill="#000">29.5</text>
<line x1="1009.3" y1="2435.5" x2="1009.3" y2="2426.2" stroke="#000" stroke-width="3"/>
<text x="1010.3" y="2469.5" font-size="30" font-weight="bold" text-anchor="middle" fill="#000">30.0</text>
<line x1="460.4" y1="2435.5" x2="460.4" y2="2430.5" stroke="#000" stroke-width="3"/>
<line x1="560.2" y1="2435.5" x2="560.2" y2="2430.5" stroke="#000" stroke-width="3"/>
<line x1="660" y1="2435.5" x2="660" y2="2430.5" stroke="#000" stroke-width="3"/>
<line x1="759.8" y1="2435.5" x2="759.8" y2="2430.5" stroke="#000" stroke-width="3"/>
<line x1="859.6" y1="2435.5" x2="859.6" y2="2430.5" stroke="#000" stroke-width="3"/>
<line x1="959.4" y1="2435.5" x2="959.4" y2="2430.5" stroke="#000" stroke-width="3"/>
<line x1="1059.2" y1="2435.5" x2="1059.2" y2="2430.5" stroke="#000" stroke-width="3"/>
<text x="728" y="2521.5" font-size="42" font-weight="bold" text-anchor="middle" fill="#000">Time(s)</text>
<text x="336" y="2141" font-size="48" font-weight="bold" text-anchor="middle" fill="#000" transform="rotate(-90 336 2141)" class="nk">Temperature(°C)</text>
<g clip-path="url(#cj)">
<polyline points="210.9,2681.97 410.5,2529.53 610.1,2378.61 809.7,2233.29 1009.3,2082.37" fill="none" stroke="#000000" stroke-width="2.5" stroke-linejoin="round"/>
<rect x="404.56" y="2523.23" width="11.88" height="12.6" fill="#000000"/>
<rect x="604.16" y="2372.31" width="11.88" height="12.6" fill="#000000"/>
<rect x="803.76" y="2226.99" width="11.88" height="12.6" fill="#000000"/>
<rect x="1003.36" y="2076.07" width="11.88" height="12.6" fill="#000000"/>
<polyline points="210.9,2632.68 410.5,2478.39 610.1,2325.64 809.7,2178.55 1009.3,2025.8" fill="none" stroke="#EF4242" stroke-width="2.5" stroke-linejoin="round"/>
<ellipse cx="410.5" cy="2478.39" rx="6.21" ry="6.57" fill="#EF4242"/>
<ellipse cx="610.1" cy="2325.64" rx="6.21" ry="6.57" fill="#EF4242"/>
<ellipse cx="809.7" cy="2178.55" rx="6.21" ry="6.57" fill="#EF4242"/>
<ellipse cx="1009.3" cy="2025.8" rx="6.21" ry="6.57" fill="#EF4242"/>
<polyline points="210.9,2576.82 410.5,2420.43 610.1,2265.6 809.7,2116.51 1009.3,1961.68" fill="none" stroke="#00A0FF" stroke-width="2.5" stroke-linejoin="round"/>
<polygon points="410.5,2410.83 402.49,2425.23 418.51,2425.23" fill="#00A0FF"/>
<polygon points="610.1,2256 602.09,2270.4 618.11,2270.4" fill="#00A0FF"/>
<polygon points="809.7,2106.91 801.69,2121.31 817.71,2121.31" fill="#00A0FF"/>
<polygon points="1009.3,1952.08 1001.29,1966.48 1017.31,1966.48" fill="#00A0FF"/>
</g>
<line x1="1744.7" y1="1888.8" x2="1140.37" y2="1864.23" stroke="#000" stroke-width="2.7"/>
<polygon points="1100.4,1862.6 1140.77,1854.23 1139.96,1874.22" fill="#000"/>
<line x1="1744.7" y1="2046.9" x2="1128.05" y2="2410.93" stroke="#000" stroke-width="2.7"/>
<polygon points="1094.9,2430.5 1123.07,2402.49 1133.04,2419.37" fill="#000"/>
<text x="1633" y="2542" font-size="72.3" text-anchor="start" fill="#000">depth=9 mm</text>
<text x="1533.2" y="2640.3" font-size="71.5" text-anchor="start" fill="#000">Current=1000 A</text>
<text x="1068" y="2750.9" font-size="71.85" text-anchor="start" fill="#000">Measure points : P1(10channels)</text>
<text x="1212.8" y="2952.7" font-size="71.5" text-anchor="start" fill="#000">Frequency 20 KHz</text>
<text x="1212.8" y="3057.3" font-size="71.5" text-anchor="start" fill="#000">Frequency 30 KHz</text>
<text x="1212.8" y="3162" font-size="71.5" text-anchor="start" fill="#000">Frequency 40 KHz</text>
<line x1="1787.6" y1="2933.5" x2="1991" y2="2933.5" stroke="#000000" stroke-width="5.5"/>
<rect x="1872.8" y="2916" width="33" height="35" fill="#000000"/>
<line x1="1787.6" y1="3042.8" x2="1991" y2="3042.8" stroke="#EF4242" stroke-width="5.5"/>
<ellipse cx="1889.3" cy="3042.8" rx="17.25" ry="18.25" fill="#EF4242"/>
<line x1="1787.6" y1="3152" x2="1991" y2="3152" stroke="#00A0FF" stroke-width="5.5"/>
<polygon points="1889.3,3125.33 1867.05,3165.33 1911.55,3165.33" fill="#00A0FF"/>
</svg>
</body></html>
